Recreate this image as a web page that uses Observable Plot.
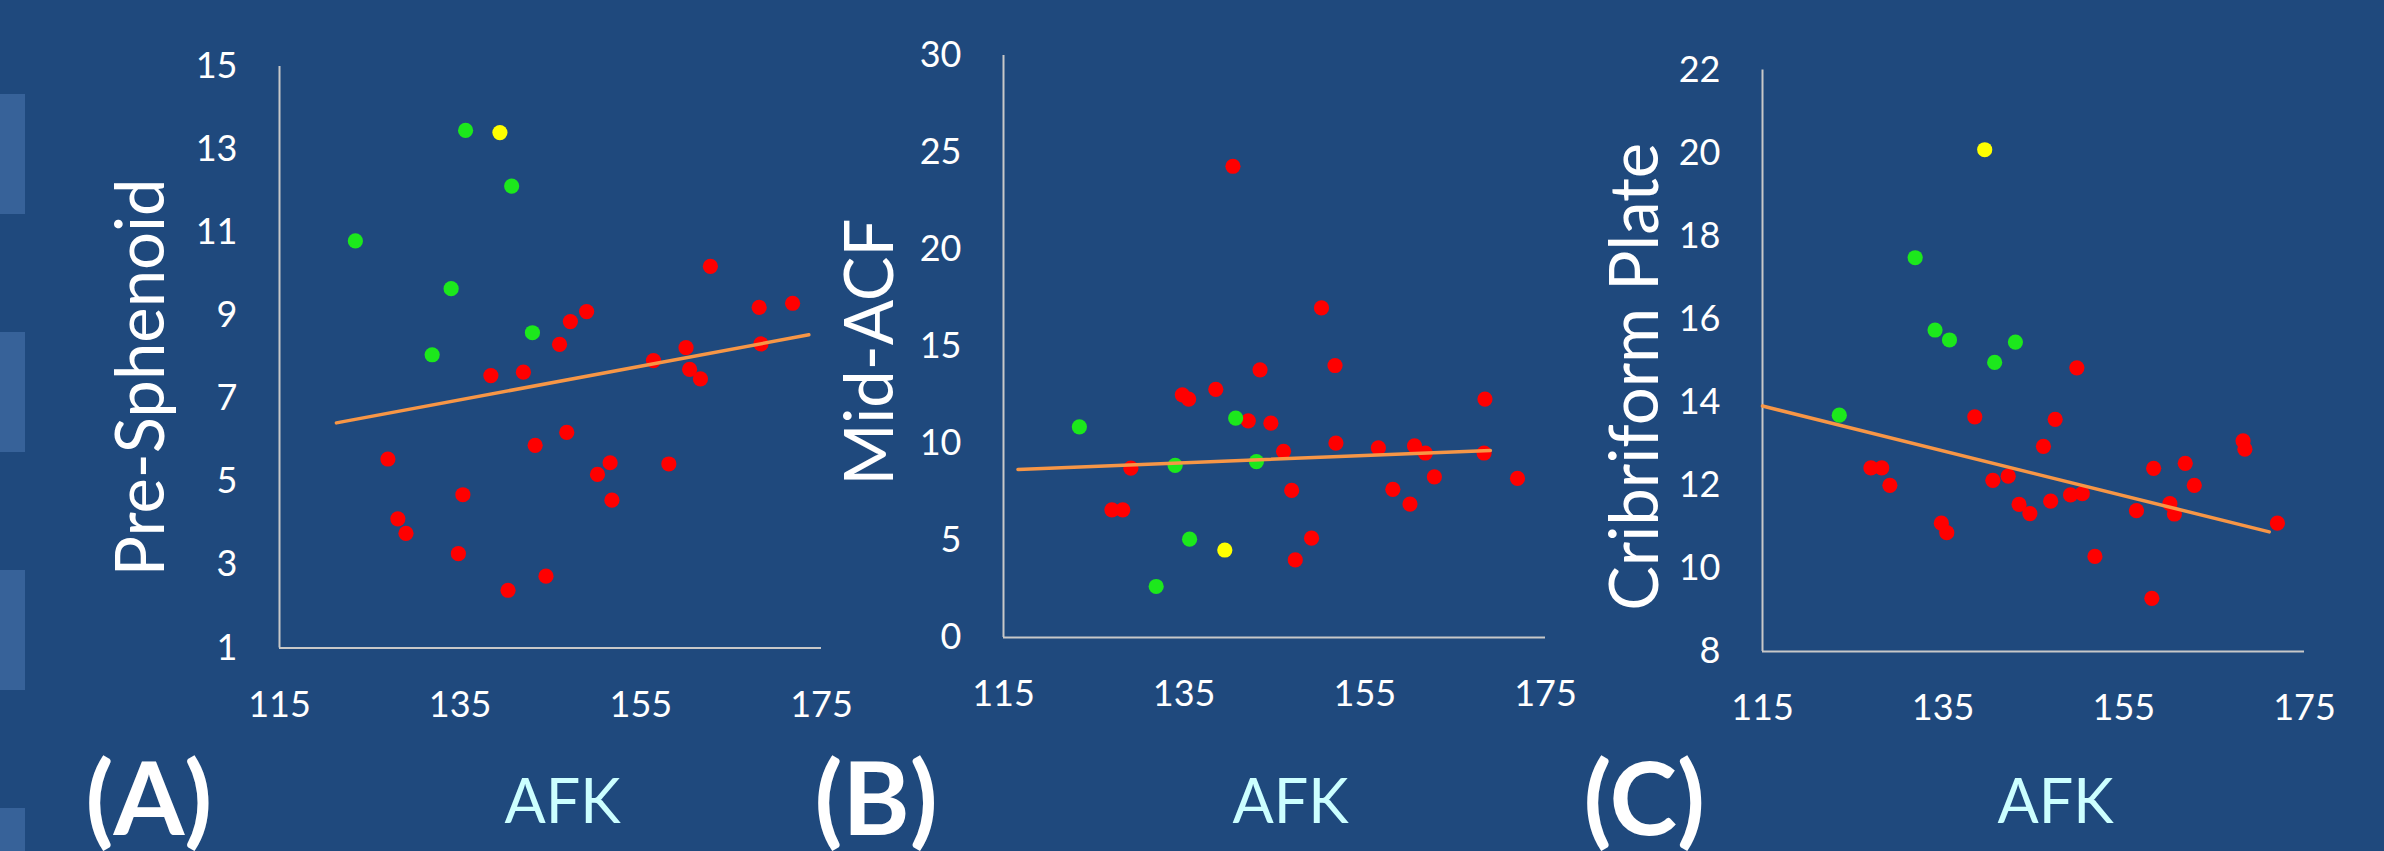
<!DOCTYPE html>
<html>
<head>
<meta charset="utf-8">
<script src="https://cdn.jsdelivr.net/npm/d3@7"></script>
<script src="https://cdn.jsdelivr.net/npm/@observablehq/plot@0.6"></script>
<style>
  html, body { margin: 0; padding: 0; background: #1f497d; overflow: hidden; }
  #chart { position: relative; width: 2384px; height: 851px; background: #1f497d; overflow: hidden; font-family: Lato, sans-serif; }
  .deco { position: absolute; left: 0; width: 25px; height: 120px; background: #376299; }
</style>
</head>
<body>
<div id="chart">
  <div class="deco" style="top:94px"></div>
  <div class="deco" style="top:332px"></div>
  <div class="deco" style="top:570px"></div>
  <div class="deco" style="top:808px"></div>
</div>
<script>
// ---------- data ----------
const xTicks = [115, 135, 155, 175];
const yTicksA = [1, 3, 5, 7, 9, 11, 13, 15];
const yTicksB = [0, 5, 10, 15, 20, 25, 30];
const yTicksC = [8, 10, 12, 14, 16, 18, 20, 22];
const groups = ["R", "G", "Y"];
const groupColors = ["#ff0000", "#1ce81c", "#ffff00"];

// Panel A: Pre-Sphenoid vs AFK
const afkA = [127.0, 128.1, 129.0, 134.8, 135.3, 138.4, 140.3, 142.0, 143.3, 144.5, 146.0, 146.8, 147.2,
              149.0, 150.2, 151.6, 151.8, 156.4, 158.1, 160.0, 160.4, 161.6, 162.7, 168.1, 168.3, 171.8,
              123.4, 131.9, 134.0, 135.6, 140.7, 143.0,
              139.4];
const preSphenoid = [5.55, 4.11, 3.76, 3.27, 4.69, 7.56, 2.39, 7.64, 5.88, 2.73, 8.31, 6.19, 8.86,
                     9.10, 5.18, 5.46, 4.56, 7.92, 5.43, 8.23, 7.71, 7.48, 10.19, 9.20, 8.32, 9.30,
                     10.80, 8.06, 9.65, 13.46, 12.12, 8.59,
                     13.41];
const groupA = ["R","R","R","R","R","R","R","R","R","R","R","R","R",
                "R","R","R","R","R","R","R","R","R","R","R","R","R",
                "G","G","G","G","G","G",
                "Y"];
const trendAX = [121.3, 173.6];
const trendAY = [6.42, 8.54];

// Panel B: Mid-ACF vs AFK
const afkB = [127.0, 128.2, 129.1, 134.8, 135.5, 138.5, 140.4, 142.1, 143.4, 144.6, 146.0, 146.9, 147.3,
              149.1, 150.2, 151.7, 151.8, 156.5, 158.1, 160.0, 160.5, 161.7, 162.7, 168.2, 168.3, 171.9,
              123.4, 131.9, 134.0, 135.6, 140.7, 143.0,
              139.5];
const midACF = [6.58, 6.58, 8.73, 12.51, 12.29, 12.79, 24.29, 11.17, 13.80, 11.05, 9.60, 7.58, 4.00,
                5.12, 16.99, 14.02, 10.02, 9.77, 7.64, 6.88, 9.88, 9.51, 8.28, 9.51, 12.29, 8.20,
                10.86, 2.63, 8.87, 5.07, 11.31, 9.07,
                4.51];
const groupB = ["R","R","R","R","R","R","R","R","R","R","R","R","R",
                "R","R","R","R","R","R","R","R","R","R","R","R","R",
                "G","G","G","G","G","G",
                "Y"];
const trendBX = [116.6, 168.9];
const trendBY = [8.66, 9.64];

// Panel C: Cribriform Plate vs AFK
const afkC = [127.0, 128.2, 129.1, 134.8, 135.4, 138.5, 140.5, 142.2, 143.4, 144.6, 146.1, 146.9, 147.4,
              149.1, 149.8, 150.4, 151.8, 156.4, 158.1, 158.3, 160.1, 160.6, 161.8, 162.8, 168.2, 168.4, 172.0,
              123.5, 131.9, 134.1, 135.7, 140.7, 143.0,
              139.6];
const cribriform = [12.42, 12.42, 12.00, 11.09, 10.86, 13.65, 12.12, 12.22, 11.54, 11.32, 12.94, 11.62, 13.59,
                    11.77, 14.83, 11.80, 10.29, 11.39, 9.28, 12.41, 11.56, 11.31, 12.53, 12.00, 13.07, 12.87, 11.09,
                    13.69, 17.48, 15.74, 15.50, 14.96, 15.45,
                    20.08];
const groupC = ["R","R","R","R","R","R","R","R","R","R","R","R","R",
                "R","R","R","R","R","R","R","R","R","R","R","R","R","R",
                "G","G","G","G","G","G",
                "Y"];
const trendCX = [115.0, 171.1];
const trendCY = [13.91, 10.88];

// ---------- drawing ----------
const panels = [
  {left: 0, width: 850, ml: 279, mr: 29, mt: 66, mb: 203.5,
   x: afkA, y: preSphenoid, g: groupA, yDomain: [1, 15], yTicks: yTicksA, tx: trendAX, ty: trendAY,
   title: "Pre-Sphenoid", titleDx: -137, titleDy: 20, afkDx: 12, afkDy: 155, letter: "(A)", letterDx: -194, letterDy: 154},
  {left: 780, width: 800, ml: 223, mr: 35, mt: 55, mb: 214,
   x: afkB, y: midACF, g: groupB, yDomain: [0, 30], yTicks: yTicksB, tx: trendBX, ty: trendBY,
   title: "Mid-ACF", titleDx: -132, titleDy: 5.5, afkDx: 16, afkDy: 165.5, letter: "(B)", letterDx: -189, letterDy: 165},
  {left: 1560, width: 824, ml: 202, mr: 80, mt: 69.5, mb: 200,
   x: afkC, y: cribriform, g: groupC, yDomain: [8, 22], yTicks: yTicksC, tx: trendCX, ty: trendCY,
   title: "Cribriform Plate", titleDx: -126, titleDy: 16, afkDx: 22, afkDy: 151.5, letter: "(C)", letterDx: -179, letterDy: 151}
];

const chart = document.getElementById("chart");
for (const p of panels) {
  const pts = p.x.map((x, i) => ({x, y: p.y[i], g: p.g[i]}));
  const trend = p.tx.map((x, i) => ({x, y: p.ty[i]}));
  const axisColor = "#c8c8c8";
  const svg = Plot.plot({
    width: p.width,
    height: 851,
    marginLeft: p.ml,
    marginRight: p.mr,
    marginTop: p.mt,
    marginBottom: p.mb,
    style: {background: "transparent", color: "white", fontFamily: "Lato, sans-serif", fontSize: "36px", overflow: "visible"},
    x: {domain: [115, 175]},
    y: {domain: p.yDomain},
    color: {domain: groups, range: groupColors},
    marks: [
      Plot.ruleX([115], {y1: p.yDomain[0], y2: p.yDomain[1], stroke: axisColor, strokeWidth: 2}),
      Plot.ruleY([p.yDomain[0]], {x1: 115, x2: 175, stroke: axisColor, strokeWidth: 2}),
      Plot.axisX({ticks: xTicks, tickSize: 0, tickPadding: 43, label: null, fontSize: 36, tickFormat: d => String(d)}),
      Plot.axisY({ticks: p.yTicks, tickSize: 0, tickPadding: 42, label: null, fontSize: 36, tickFormat: d => String(d)}),
      Plot.dot(pts, {x: "x", y: "y", fill: "g", r: 7.6}),
      Plot.line(trend, {x: "x", y: "y", stroke: "#f79646", strokeWidth: 3.5}),
      Plot.text([p.title], {text: d => d, frameAnchor: "left", textAnchor: "middle", lineAnchor: "middle", rotate: -90, dx: p.titleDx, dy: p.titleDy, fontSize: 67, fill: "white"}),
      Plot.text(["AFK"], {text: d => d, frameAnchor: "bottom", textAnchor: "middle", lineAnchor: "middle", dx: p.afkDx, dy: p.afkDy, fontSize: 61, fill: "#ccffff"}),
      Plot.text([p.letter], {text: d => d, frameAnchor: "bottom-left", textAnchor: "start", lineAnchor: "middle", dx: p.letterDx, dy: p.letterDy, fontSize: 102, fontWeight: 700, fill: "white"})
    ]
  });
  svg.style.position = "absolute";
  svg.style.left = p.left + "px";
  svg.style.top = "0px";
  svg.style.maxWidth = "none";
  chart.appendChild(svg);
}
</script>
</body>
</html>
